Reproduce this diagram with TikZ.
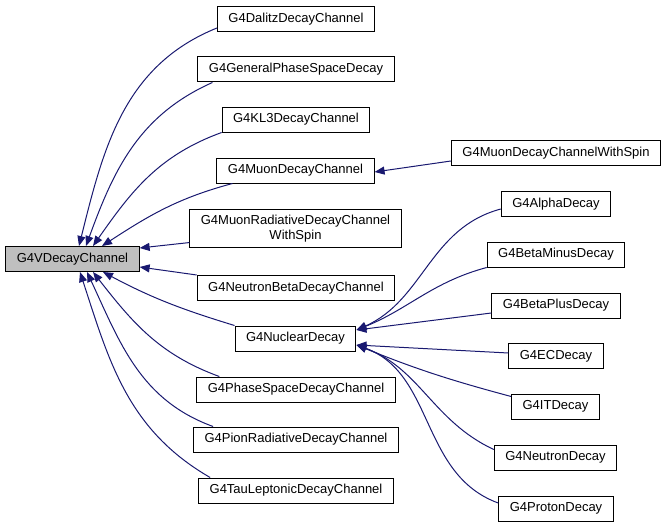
\documentclass[tikz,border=0pt]{standalone}
\usepackage{fontspec}
\setmainfont{Liberation Sans}
\usepackage{tikz}
\usetikzlibrary{positioning,arrows.meta,calc}
\definecolor{midblue}{RGB}{25,25,112}
\definecolor{basegray}{RGB}{191,191,191}

\begin{document}
\begin{tikzpicture}[x=1pt,y=1pt,
                    class node/.style={draw=black,line width=1pt,rectangle,inner xsep=11pt,inner ysep=5pt,
                                       minimum height=25pt,align=center,font=\fontsize{13}{15}\selectfont},
                    base node/.style={class node,fill=basegray},
                    inherit/.style={draw=midblue,line width=1pt,{Triangle[length=10pt,width=8pt]}-}
                   ]
  \useasboundingbox (0,0) rectangle (667,-527);
  % base class
  \node[base node] (vdc) at (72.5,-259) {G4VDecayChannel};
  % direct children
  \node[class node] (dalitz) at (296,-19) {G4DalitzDecayChannel};
  \node[class node] (general) at (296,-69.5) {G4GeneralPhaseSpaceDecay};
  \node[class node] (kl3) at (296,-119.5) {G4KL3DecayChannel};
  \node[class node] (muon) at (295.5,-170.5) {G4MuonDecayChannel};
  \node[class node] (muonrad) at (295.5,-228.5) {G4MuonRadiativeDecayChannel\\WithSpin};
  \node[class node] (neutronbeta) at (296,-288) {G4NeutronBetaDecayChannel};
  \node[class node] (nuclear) at (295.5,-338.5) {G4NuclearDecay};
  \node[class node] (phasespace) at (296,-389.5) {G4PhaseSpaceDecayChannel};
  \node[class node] (pionrad) at (296,-439.5) {G4PionRadiativeDecayChannel};
  \node[class node] (tau) at (296,-490.5) {G4TauLeptonicDecayChannel};
  % second level
  \node[class node] (muonspin) at (556,-153) {G4MuonDecayChannelWithSpin};
  \node[class node] (alpha) at (556,-204) {G4AlphaDecay};
  \node[class node] (betaminus) at (556,-254.5) {G4BetaMinusDecay};
  \node[class node] (betaplus) at (556,-305.5) {G4BetaPlusDecay};
  \node[class node] (ec) at (556,-356) {G4ECDecay};
  \node[class node] (it) at (555.5,-406.5) {G4ITDecay};
  \node[class node] (neutron) at (555.5,-457.5) {G4NeutronDecay};
  \node[class node] (proton) at (556,-508.5) {G4ProtonDecay};

  \path%
    ([xshift=6.5pt]vdc.north) edge[inherit,out=76,in=202] ([yshift=-9pt]dalitz.west)
    ([xshift=13.5pt]vdc.north) edge[inherit,out=70,in=204] ([xshift=15pt]general.south west)
    ([xshift=20.5pt]vdc.north) edge[inherit,out=55,in=200] (kl3.south west)
    ([xshift=29.5pt]vdc.north) edge[inherit,out=33,in=195] ([xshift=16pt]muon.south west)
    ([yshift=11pt]vdc.east) edge[inherit] ([yshift=5pt]muonrad.south west)
    ([yshift=-8pt]vdc.east) edge[inherit] (neutronbeta.north west)
    ([xshift=30.5pt]vdc.south) edge[inherit,out=-28,in=163] (nuclear.north west)
    ([xshift=20.5pt]vdc.south) edge[inherit,out=-52,in=160] ([xshift=23pt]phasespace.north west)
    ([xshift=14.5pt]vdc.south) edge[inherit,out=-65,in=160] ([xshift=20pt]pionrad.north west)
    ([xshift=7.5pt]vdc.south) edge[inherit,out=-72,in=150] ([xshift=12pt]tau.north west);

  \path%
    ([yshift=-1.5pt]muon.east) edge[inherit] ([yshift=-8pt]muonspin.west)
    ([yshift=8.5pt]nuclear.east) edge[inherit,out=24,in=195] ([yshift=-5pt]alpha.west)
    ([yshift=8.5pt]nuclear.east) edge[inherit,out=22,in=195] (betaminus.south west)
    ([yshift=8.5pt]nuclear.east) edge[inherit] ([yshift=-7.5pt]betaplus.west)
    ([yshift=-6.5pt]nuclear.east) edge[inherit] ([yshift=3pt]ec.west)
    ([yshift=-6.5pt]nuclear.east) edge[inherit,out=-22,in=165] ([yshift=-3pt]it.north west)
    ([yshift=-6.5pt]nuclear.east) edge[inherit,out=-20,in=155] ([yshift=-5pt]neutron.north west)
    ([yshift=-6.5pt]nuclear.east) edge[inherit,out=-20,in=160] ([yshift=5.5pt]proton.west);
\end{tikzpicture}
\end{document}
